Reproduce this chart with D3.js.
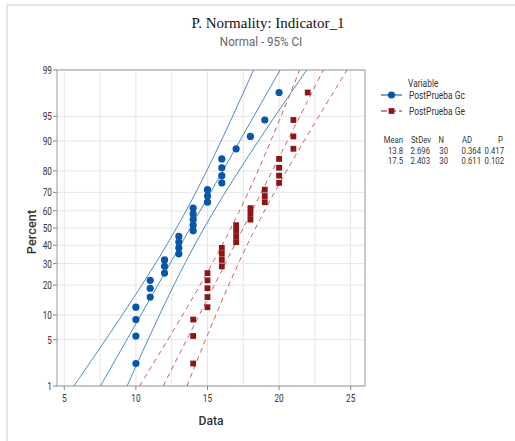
<!DOCTYPE html>
<meta charset="utf-8">
<style>
  body { margin: 0; background: #fff; }
  text { font-family: "Roboto", "Liberation Sans", sans-serif; fill: #333; }
  .grid line { stroke: #e6e6e6; stroke-width: 1; }
</style>
<body>
<script src="https://d3js.org/d3.v7.min.js"></script>
<script>
// data
var gcValues = [10,10,10,10,11,11,11,12,12,12,13,13,13,13,14,14,14,14,14,15,15,15,16,16,16,16,17,18,19,20];
var geValues = [14,14,14,15,15,15,15,15,16,16,16,16,17,17,17,17,18,18,18,19,19,19,20,20,20,20,21,21,21,22];
var seriesNames = ["PostPrueba Gc", "PostPrueba Ge"];
var statHeaders = ["Mean", "StDev", "N", "AD", "P"];
var gcStats = ["13.8", "2.696", "30", "0.364", "0.417"];
var geStats = ["17.5", "2.403", "30", "0.611", "0.102"];
var percentTicks = [1, 5, 10, 20, 30, 40, 50, 60, 70, 80, 90, 95, 99];
var dataTicks = [5, 10, 15, 20, 25];
var dataGrid = [5, 7.5, 10, 12.5, 15, 17.5, 20, 22.5, 25];

// inverse normal cdf (Acklam)
function probit(p) {
  var a = [-39.6968302866538, 220.946098424521, -275.928510446969, 138.357751867269, -30.6647980661472, 2.50662827745924],
      b = [-54.4760987982241, 161.585836858041, -155.698979859887, 66.8013118877197, -13.2806815528857],
      c = [-0.00778489400243029, -0.322396458041136, -2.40075827716184, -2.54973253934373, 4.37466414146497, 2.93816398269878],
      d = [0.00778469570904146, 0.32246712907004, 2.445134137143, 3.75440866190742];
  var q, r;
  if (p < 0.02425) {
    q = Math.sqrt(-2 * Math.log(p));
    return (((((c[0]*q+c[1])*q+c[2])*q+c[3])*q+c[4])*q+c[5]) / ((((d[0]*q+d[1])*q+d[2])*q+d[3])*q+1);
  } else if (p > 1 - 0.02425) {
    q = Math.sqrt(-2 * Math.log(1 - p));
    return -(((((c[0]*q+c[1])*q+c[2])*q+c[3])*q+c[4])*q+c[5]) / ((((d[0]*q+d[1])*q+d[2])*q+d[3])*q+1);
  }
  q = p - 0.5; r = q * q;
  return (((((a[0]*r+a[1])*r+a[2])*r+a[3])*r+a[4])*r+a[5])*q / (((((b[0]*r+b[1])*r+b[2])*r+b[3])*r+b[4])*r+1);
}

var W = 515, H = 441;
var pLeft = 57, pRight = 365, pTop = 70, pBottom = 386;

var svg = d3.select("body").append("svg").attr("width", W).attr("height", H);

// condensed text helper: squeeze glyphs horizontally
function ctext(g, x, y, str, anchor, size, sx) {
  return g.append("text")
    .attr("transform", "translate(" + x + "," + y + ") scale(" + sx + ",1)")
    .attr("dy", "0.35em").attr("text-anchor", anchor)
    .style("font-size", size + "px").text(str);
}

// outer frame lines
svg.append("line").attr("x1", 7).attr("x2", W).attr("y1", 5).attr("y2", 5)
  .attr("stroke", "#dcdcdc").attr("stroke-width", 1.5);
svg.append("line").attr("x1", 7).attr("x2", 7).attr("y1", 5).attr("y2", H)
  .attr("stroke", "#dcdcdc").attr("stroke-width", 1.5);

var x = d3.scaleLinear().domain([4.49, 26.0]).range([pLeft, pRight]);
var zTop = probit(0.99);
var yz = d3.scaleLinear().domain([-zTop, zTop]).range([pBottom, pTop]);
function y(pct) { return yz(probit(pct / 100)); }

// grid
var grid = svg.append("g").attr("class", "grid");
grid.selectAll(".gx").data(dataGrid).enter().append("line")
  .attr("x1", function(d) { return x(d); }).attr("x2", function(d) { return x(d); })
  .attr("y1", pTop).attr("y2", pBottom);
grid.selectAll(".gy").data(percentTicks).enter().append("line")
  .attr("x1", pLeft).attr("x2", pRight)
  .attr("y1", function(d) { return y(d); }).attr("y2", function(d) { return y(d); });

// frame
svg.append("rect").attr("x", pLeft).attr("y", pTop).attr("width", pRight - pLeft).attr("height", pBottom - pTop)
  .attr("fill", "none").attr("stroke", "#999").attr("stroke-width", 1);

// axes
var yAxis = svg.append("g");
percentTicks.forEach(function(d) {
  yAxis.append("line").attr("x1", pLeft - 4).attr("x2", pLeft)
    .attr("y1", y(d)).attr("y2", y(d)).attr("stroke", "#888");
  ctext(yAxis, pLeft - 5, y(d), d, "end", 11.5, 0.72);
});
var xAxis = svg.append("g");
dataTicks.forEach(function(d) {
  xAxis.append("line").attr("x1", x(d)).attr("x2", x(d))
    .attr("y1", pBottom).attr("y2", pBottom + 4).attr("stroke", "#888");
  ctext(xAxis, x(d), pBottom + 12, d, "middle", 11.5, 0.72);
});

ctext(svg, 211, 420, "Data", "middle", 13.5, 0.9).style("font-weight", 500);
svg.append("text").attr("transform", "translate(31,232) rotate(-90) scale(0.95,1)").attr("dy", "0.35em")
  .attr("text-anchor", "middle").style("font-size", "13.5px").style("font-weight", 500).text("Percent");

// titles
svg.append("text").attr("x", 268).attr("y", 23).attr("dy", "0.35em")
  .attr("text-anchor", "middle")
  .style("font-family", "'Liberation Serif', serif").style("font-size", "15px").style("fill", "#111")
  .text("P. Normality: Indicator_1");
ctext(svg, 261, 42, "Normal - 95% CI", "middle", 12.5, 0.93).style("fill", "#666");

// fitted line and 95% CI for each series
function stats(v) {
  return { mean: d3.mean(v), sd: d3.deviation(v), n: v.length };
}
svg.append("clipPath").attr("id", "plotclip").append("rect")
  .attr("x", pLeft).attr("y", pTop).attr("width", pRight - pLeft).attr("height", pBottom - pTop);
var plot = svg.append("g").attr("clip-path", "url(#plotclip)");

function drawFit(v, color, dash) {
  var s = stats(v);
  var zs = d3.range(0, 101).map(function(i) { return -zTop + i * (2 * zTop / 100); });
  [-1, 0, 1].forEach(function(k) {
    var line = d3.line()
      .x(function(z) {
        var hw = 1.959964 * s.sd * Math.sqrt(1 / s.n + z * z / (2 * s.n));
        return x(s.mean + s.sd * z + k * hw);
      })
      .y(function(z) { return yz(z); });
    plot.append("path").datum(zs).attr("d", line)
      .attr("fill", "none").attr("stroke", color).attr("stroke-width", 1)
      .attr("stroke-dasharray", dash);
  });
}
drawFit(gcValues, "#4a85c8", null);
drawFit(geValues, "#cc5a5e", "5,4");

function ranks(v) {
  var sorted = v.slice().sort(d3.ascending);
  return sorted.map(function(d, i) { return { v: d, p: (i + 1 - 0.3) / (sorted.length + 0.4) }; });
}
plot.selectAll(".gc").data(ranks(gcValues)).enter().append("circle")
  .attr("cx", function(d) { return x(d.v); })
  .attr("cy", function(d) { return yz(probit(d.p)); })
  .attr("r", 3.6).attr("fill", "#0856a8");
plot.selectAll(".ge").data(ranks(geValues)).enter().append("rect")
  .attr("x", function(d) { return x(d.v) - 2.9; })
  .attr("y", function(d) { return yz(probit(d.p)) - 2.9; })
  .attr("width", 5.8).attr("height", 5.8).attr("fill", "#8e1515");

// legend
var lg = svg.append("g");
var fs = 10.5, sq = 0.8;
ctext(lg, 408, 83, "Variable", "start", fs, sq);
lg.append("line").attr("x1", 381).attr("x2", 402).attr("y1", 95).attr("y2", 95)
  .attr("stroke", "#4a85c8").attr("stroke-width", 1.5);
lg.append("circle").attr("cx", 391.5).attr("cy", 95).attr("r", 3.6).attr("fill", "#0856a8");
ctext(lg, 409, 95, seriesNames[0], "start", fs, sq);
lg.append("line").attr("x1", 381).attr("x2", 402).attr("y1", 111).attr("y2", 111)
  .attr("stroke", "#cc5a5e").attr("stroke-width", 1.5).attr("stroke-dasharray", "6,3");
lg.append("rect").attr("x", 388.6).attr("y", 108.1).attr("width", 5.8).attr("height", 5.8).attr("fill", "#8e1515");
ctext(lg, 409, 111, seriesNames[1], "start", fs, sq);

// statistics table
var tfs = 9, tsq = 0.86;
var headerRight = [403, 431, 444, 472, 503];
var valueRight = [403, 430, 448, 481, 504];
statHeaders.forEach(function(d, i) { ctext(lg, headerRight[i], 139.5, d, "end", tfs, tsq); });
[gcStats, geStats].forEach(function(row, r) {
  row.forEach(function(d, i) { ctext(lg, valueRight[i], 150.5 + r * 10, d, "end", tfs, tsq); });
});
</script>
</body>
